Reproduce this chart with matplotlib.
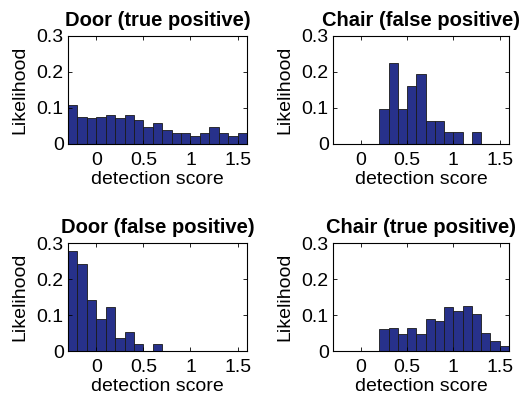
import matplotlib
matplotlib.use("Agg")
import matplotlib.pyplot as plt
import numpy as np

# bin left edges run from -0.3 to 1.6 in steps of 0.1
bin_edges = np.round(np.arange(-0.3, 1.61, 0.1), 2)

door_tp = [0.108, 0.076, 0.072, 0.076, 0.080, 0.072, 0.080, 0.067, 0.048, 0.057,
           0.039, 0.030, 0.030, 0.021, 0.030, 0.048, 0.030, 0.021, 0.030]
chair_fp = [0, 0, 0, 0, 0, 3/31, 7/31, 3/31, 5/31, 6/31,
            2/31, 2/31, 1/31, 1/31, 0, 1/31, 0, 0, 0]
door_fp = [0.277, 0.242, 0.141, 0.089, 0.123, 0.037, 0.054, 0.019, 0, 0.019,
           0, 0, 0, 0, 0, 0, 0, 0, 0]
chair_tp = [0, 0, 0, 0, 0, 0.060, 0.063, 0.047, 0.063, 0.047,
            0.088, 0.083, 0.123, 0.111, 0.126, 0.103, 0.051, 0.027, 0.014]

titles = ["Door (true positive)", "Chair (false positive)",
          "Door (false positive)", "Chair (true positive)"]
series = [door_tp, chair_fp, door_fp, chair_tp]

xticks = [0, 0.5, 1, 1.5]
xticklabels = ["0", "0.5", "1", "1.5"]
yticks = [0, 0.1, 0.2, 0.3]
yticklabels = ["0", "0.1", "0.2", "0.3"]

plt.rcParams["font.family"] = ["Liberation Sans", "DejaVu Sans"]

W, H = 520, 401
fig = plt.figure(figsize=(W / 100, H / 100), dpi=100)

# axes boxes in pixels: left, top, right, bottom
boxes = [(68, 36, 247, 144), (333, 36, 509, 144),
         (68, 243, 247, 351), (333, 243, 509, 351)]

bar_color = "#27318b"
for (l, t, r, b), title, vals in zip(boxes, titles, series):
    ax = fig.add_axes([l / W, 1 - b / H, (r - l) / W, (b - t) / H])
    centers = bin_edges[:-1] + 0.05
    ax.bar(centers, vals, width=0.1, color=bar_color, edgecolor="#1a1a1a", linewidth=0.6)
    ax.set_xlim(-0.3, 1.6)
    ax.set_ylim(0, 0.3)
    ax.set_xticks(xticks)
    ax.set_xticklabels(xticklabels)
    ax.set_yticks(yticks)
    ax.set_yticklabels(yticklabels)
    ax.tick_params(direction="in", top=True, right=True, length=3, width=0.6,
                   labelsize=14)
    ax.tick_params(axis="x", pad=6)
    ax.tick_params(axis="y", pad=3)
    for sp in ax.spines.values():
        sp.set_linewidth(0.8)
    ax.set_title(title, fontsize=14.5, fontweight="bold", pad=7)
    ax.set_xlabel("detection score", fontsize=14, labelpad=1)
    ax.set_ylabel("Likelihood", fontsize=14, labelpad=6)

fig.savefig("out.png", dpi=100)
